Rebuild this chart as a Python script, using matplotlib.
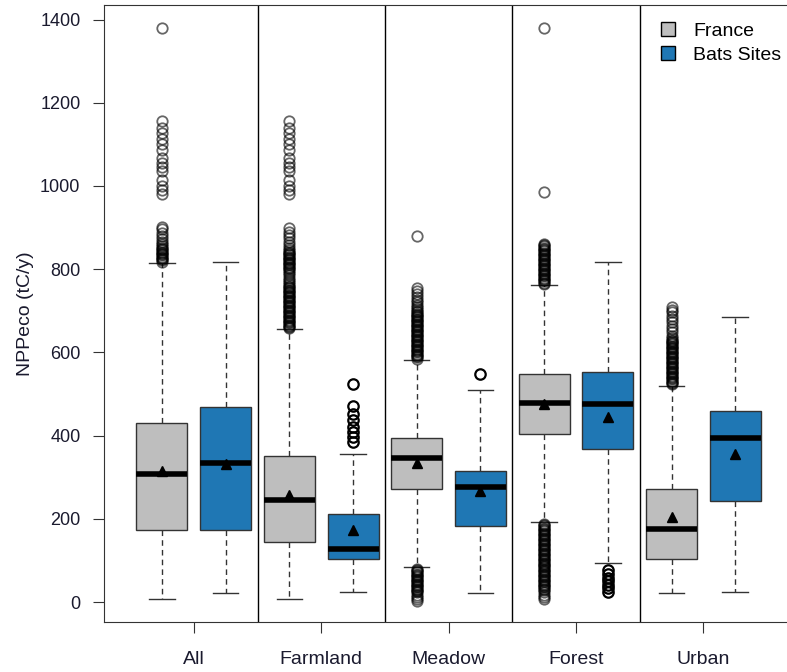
"""NPPeco boxplots: France vs bat sites, by land-cover group."""

import matplotlib

matplotlib.use("Agg")
import matplotlib.pyplot as plt
from matplotlib.patches import Patch

plt.rcParams["font.family"] = ["Liberation Sans", "DejaVu Sans"]

groups = ["All", "Farmland", "Meadow", "Forest", "Urban"]

# France (grey boxes)
france_lo = [8, 8, 85, 192, 22]
france_q1 = [173, 145, 271, 405, 104]
france_med = [307, 245, 346, 478, 176]
france_q3 = [430, 351, 395, 548, 271]
france_hi = [816, 656, 582, 762, 520]
france_mean = [316, 257, 334, 476, 204]

# Bats sites (blue boxes)
bats_lo = [22, 24, 22, 95, 24]
bats_q1 = [173, 104, 183, 369, 244]
bats_med = [335, 127, 276, 476, 394]
bats_q3 = [468, 211, 315, 554, 460]
bats_hi = [818, 356, 510, 818, 686]
bats_mean = [332, 173, 267, 445, 356]

france_out = [
    [818, 821, 824, 827, 830, 833, 836, 839, 842, 845, 848, 851, 855, 860, 866, 872, 880,
     888, 896, 902,
     980, 990, 1000, 1015, 1035, 1045, 1055, 1068, 1087, 1100, 1112, 1128, 1140, 1156, 1380],
    [658, 661, 664, 667, 670, 673, 676, 679, 682, 685, 688, 691, 694, 697, 700, 703, 706,
     709, 712, 715, 718, 721, 724, 727, 730, 733, 736, 739, 742, 745, 748, 751, 754, 757,
     760, 765, 770, 775, 780, 785, 790, 795, 800, 803, 806, 809, 812, 815, 818, 821, 824,
     827, 830, 833, 836, 839, 842, 845, 850, 858, 866, 874, 882, 890, 898,
     980, 990, 1000, 1015, 1035, 1045, 1055, 1068, 1087, 1100, 1112, 1128, 1140, 1156],
    [3, 8, 13, 18, 23, 26, 29, 32, 35, 38, 41, 44, 47, 50, 53, 56, 59, 62, 65, 68, 71, 74,
     77, 80, 585, 588, 591, 594, 597, 600, 603, 606, 609, 612, 615, 618, 621, 624, 627, 630,
     633, 636, 639, 642, 645, 648, 651, 654, 657, 660, 663, 666, 669, 672, 675, 678, 681,
     684, 687, 690, 693, 696, 700, 705, 710, 715, 720, 726, 732, 740, 748, 755, 880],
    [8, 13, 18, 23, 28, 32, 35, 38, 41, 44, 47, 50, 53, 56, 59, 62, 65, 68, 71, 74, 77, 80,
     83, 86, 89, 92, 95, 98, 101, 104, 107, 110, 113, 116, 119, 122, 125, 128, 131, 134,
     137, 140, 143, 146, 149, 152, 155, 158, 161, 164, 167, 170, 173, 176, 179, 182, 185,
     188, 765, 768, 771, 774, 777, 780, 783, 786, 789, 792, 795, 798, 801, 804, 807, 810,
     813, 816, 819, 822, 825, 828, 831, 834, 837, 840, 843, 846, 849, 852, 855, 858, 861,
     985, 1380],
    [523, 526, 529, 532, 535, 538, 541, 544, 547, 550, 553, 556, 559, 562, 565, 568, 571,
     574, 577, 580, 583, 586, 589, 592, 595, 598, 601, 604, 607, 610, 613, 616, 619, 622,
     625, 628, 631, 634, 640, 648, 656, 664, 672, 680, 688, 696, 702, 708],
]
bats_out = [
    [],
    [385, 397, 409, 421, 437, 453, 470, 523],
    [548],
    [25, 33, 41, 50, 58, 68, 77],
    [],
]


def make_stats(lo, q1, med, q3, hi, mean, fliers):
    return [
        dict(whislo=a, q1=b, med=c, q3=d, whishi=e, mean=f, fliers=g)
        for a, b, c, d, e, f, g in zip(lo, q1, med, q3, hi, mean, fliers)
    ]


def draw_series(ax, stats, positions, color, flier_color, flier_lw):
    ax.bxp(
        stats,
        positions=positions,
        widths=0.8,
        patch_artist=True,
        showmeans=True,
        boxprops=dict(facecolor=color, edgecolor="#333333", linewidth=1.0),
        whiskerprops=dict(color="#333333", linewidth=1.0, linestyle=(0, (4, 3))),
        capprops=dict(color="#333333", linewidth=1.0),
        medianprops=dict(color="black", linewidth=4, solid_capstyle="butt"),
        meanprops=dict(marker="^", markerfacecolor="black", markeredgecolor="black",
                       markersize=7.5),
        flierprops=dict(marker="o", markerfacecolor="none", markeredgecolor=flier_color,
                        markeredgewidth=flier_lw, markersize=7.5),
    )


fig = plt.figure(figsize=(7.87, 6.72), dpi=100)
ax = fig.add_axes([104 / 787, 50 / 672, 686 / 787, 617 / 672])

n = len(groups)
pos_fr = [2 * i + 1 for i in range(n)]
pos_bt = [2 * i + 2 for i in range(n)]

draw_series(ax, make_stats(france_lo, france_q1, france_med, france_q3, france_hi,
                           france_mean, france_out), pos_fr, "#bebebe", (0, 0, 0, 0.6), 1.3)
draw_series(ax, make_stats(bats_lo, bats_q1, bats_med, bats_q3, bats_hi,
                           bats_mean, bats_out), pos_bt, "#1f77b4", "black", 1.6)

for i in range(1, n):
    ax.axvline(2 * i + 0.5, color="black", linewidth=1.0)

ax.set_xlim(0.09, 10.86)
ax.set_ylim(-48, 1435)
ax.set_xticks([2 * i + 1.5 for i in range(n)])
ax.set_xticklabels(groups, fontsize=14)
ax.set_yticks(range(0, 1401, 200))
ax.tick_params(axis="y", labelsize=13, length=8, pad=9, colors="#333333")
ax.tick_params(axis="x", length=8, pad=13, colors="#333333")
for lbl in ax.get_xticklabels() + ax.get_yticklabels():
    lbl.set_color("#1a1a2e")
for sp in ax.spines.values():
    sp.set_color("#333333")
ax.set_ylabel("NPPeco (tC/y)", fontsize=14, labelpad=4, color="#1a1a2e")

handles = [Patch(facecolor="#bebebe", edgecolor="black", label="France"),
           Patch(facecolor="#1f77b4", edgecolor="black", label="Bats Sites")]
fig.legend(handles=handles, loc="upper left", bbox_to_anchor=(661 / 787, 1 - 22 / 672),
           frameon=False, fontsize=14, handlelength=0.7, handleheight=0.7,
           handletextpad=0.95, labelspacing=0.35, borderaxespad=0, borderpad=0)

fig.savefig("out.png", dpi=100)
plt.close(fig)
